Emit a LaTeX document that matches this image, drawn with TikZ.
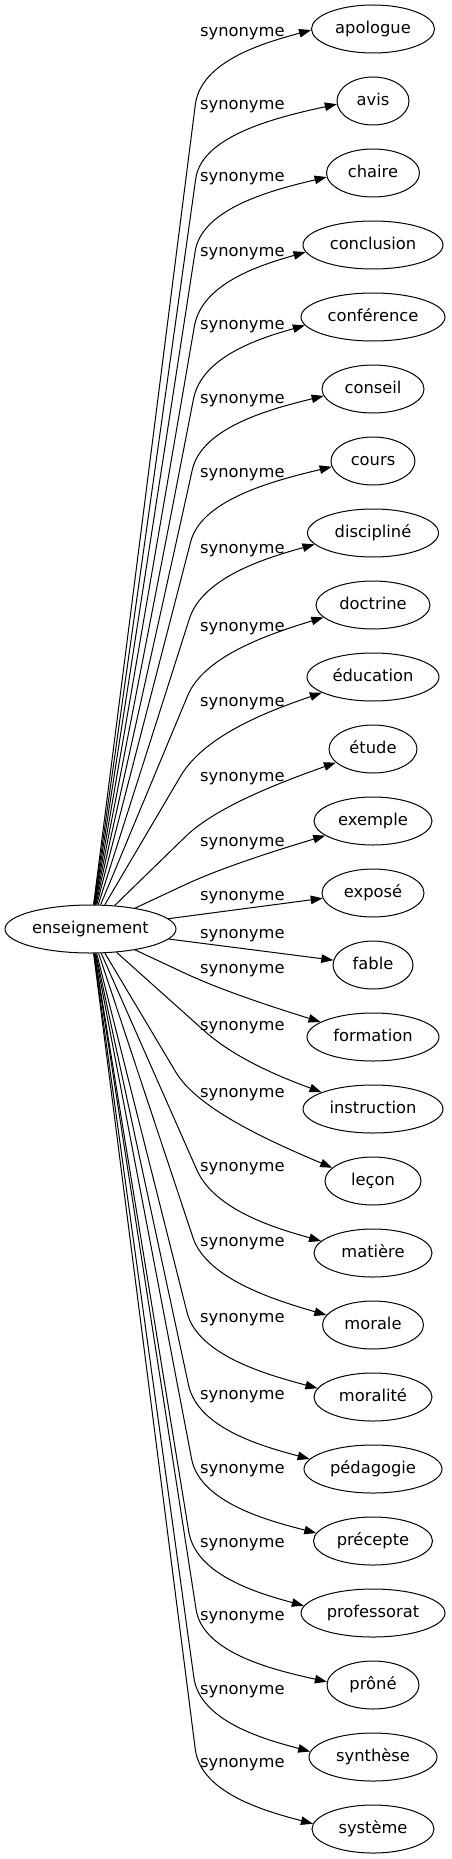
\documentclass[tikz,border=0pt]{standalone}
\usepackage{fontspec}
\setmainfont{DejaVu Sans}
\usetikzlibrary{arrows.meta,shapes.geometric,calc}
\newcommand\synlink[3]{\draw[link] (c) -- ($(#1)!#3!(c.center)$) .. controls (#1) and ($(#1)!0.6!(#2)$) .. (#2);}
\begin{document}
\begin{tikzpicture}[x=1pt,y=-1pt,
  word/.style={draw, ellipse, line width=1pt, minimum height=48pt, inner sep=0pt,
    text height=12.5pt, text depth=3.5pt, font=\fontsize{16.3}{19}\selectfont},
  lab/.style={anchor=base west, inner sep=0pt, font=\fontsize{16.3}{19}\selectfont},
  link/.style={line width=1pt, -{Triangle[length=12pt,width=8.5pt]}},
]
\useasboundingbox (0,0) rectangle (451,1859);
\node[word, minimum width=171pt] (c) at (90.5,929) {enseignement};
\node[word, minimum width=123pt] (n00) at (373,29) {apologue};
\node[word, minimum width=72pt] (n01) at (373,101) {avis};
\node[word, minimum width=93pt] (n02) at (373,173) {chaire};
\node[word, minimum width=140pt] (n03) at (373,245) {conclusion};
\node[word, minimum width=144pt] (n04) at (373,317) {conférence};
\node[word, minimum width=102pt] (n05) at (373,389) {conseil};
\node[word, minimum width=84pt] (n06) at (373,461) {cours};
\node[word, minimum width=131pt] (n07) at (373,533) {discipliné};
\node[word, minimum width=114pt] (n08) at (373,605) {doctrine};
\node[word, minimum width=132pt] (n09) at (373,677) {éducation};
\node[word, minimum width=88pt] (n10) at (373,749) {étude};
\node[word, minimum width=118pt] (n11) at (373,821) {exemple};
\node[word, minimum width=102pt] (n12) at (373,893) {exposé};
\node[word, minimum width=80pt] (n13) at (373,965) {fable};
\node[word, minimum width=132pt] (n14) at (373,1037) {formation};
\node[word, minimum width=140pt] (n15) at (373,1109) {instruction};
\node[word, minimum width=96pt] (n16) at (373,1181) {leçon};
\node[word, minimum width=118pt] (n17) at (373,1253) {matière};
\node[word, minimum width=101pt] (n18) at (373,1325) {morale};
\node[word, minimum width=118pt] (n19) at (373,1397) {moralité};
\node[word, minimum width=138pt] (n20) at (373,1469) {pédagogie};
\node[word, minimum width=119pt] (n21) at (373,1541) {précepte};
\node[word, minimum width=144pt] (n22) at (373,1613) {professorat};
\node[word, minimum width=92pt] (n23) at (373,1685) {prôné};
\node[word, minimum width=128pt] (n24) at (373,1757) {synthèse};
\node[word, minimum width=122pt] (n25) at (373,1829) {système};

\node[lab] (l00) at (200,37) {synonyme};
\node[lab] (l01) at (200,110) {synonyme};
\node[lab] (l02) at (200,182) {synonyme};
\node[lab] (l03) at (200,257) {synonyme};
\node[lab] (l04) at (200,330) {synonyme};
\node[lab] (l05) at (200,403) {synonyme};
\node[lab] (l06) at (200,477) {synonyme};
\node[lab] (l07) at (200,553) {synonyme};
\node[lab] (l08) at (200,631) {synonyme};
\node[lab] (l09) at (200,706) {synonyme};
\node[lab] (l10) at (200,781) {synonyme};
\node[lab] (l11) at (200,846) {synonyme};
\node[lab] (l12) at (200,900) {synonyme};
\node[lab] (l13) at (200,938) {synonyme};
\node[lab] (l14) at (200,973) {synonyme};
\node[lab] (l15) at (200,1030) {synonyme};
\node[lab] (l16) at (200,1097) {synonyme};
\node[lab] (l17) at (200,1171) {synonyme};
\node[lab] (l18) at (200,1246) {synonyme};
\node[lab] (l19) at (200,1322) {synonyme};
\node[lab] (l20) at (200,1399) {synonyme};
\node[lab] (l21) at (200,1473) {synonyme};
\node[lab] (l22) at (200,1547) {synonyme};
\node[lab] (l23) at (200,1620) {synonyme};
\node[lab] (l24) at (200,1694) {synonyme};
\node[lab] (l25) at (200,1767) {synonyme};

\synlink{201,60}{n00.181}{45pt}
\synlink{202,134}{n01.185}{45pt}
\synlink{202,207}{n02.185}{45pt}
\synlink{202,282}{n03.186.6}{45pt}
\synlink{202,355}{n04.187}{45pt}
\synlink{202,426}{n05.188}{45pt}
\synlink{202,498}{n06.188}{45pt}
\synlink{203,576}{n07.191.5}{45pt}
\synlink{205,654}{n08.194}{45pt}
\synlink{206,733}{n09.197}{50pt}
\synlink{218,805}{n10.200}{45pt}
\synlink{225,866}{n11.197}{45pt}
\draw[link] (c) -- (n12.186);
\draw[link] (c) -- (n13.173);
\synlink{225,992}{n14.164}{45pt}
\synlink{238,1061}{n15.162.6}{45pt}
\synlink{199,1111}{n16.162.4}{45pt}
\synlink{215,1211}{n17.167}{45pt}
\synlink{207,1280}{n18.168}{45pt}
\synlink{198,1356}{n19.171}{45pt}
\synlink{198,1429}{n20.171.4}{45pt}
\synlink{200,1503}{n21.172}{45pt}
\synlink{196,1576}{n22.174.3}{45pt}
\synlink{203,1654}{n23.176}{45pt}
\synlink{200,1722}{n24.175.5}{45pt}
\synlink{201,1794}{n25.175.3}{45pt}
\end{tikzpicture}
\end{document}
